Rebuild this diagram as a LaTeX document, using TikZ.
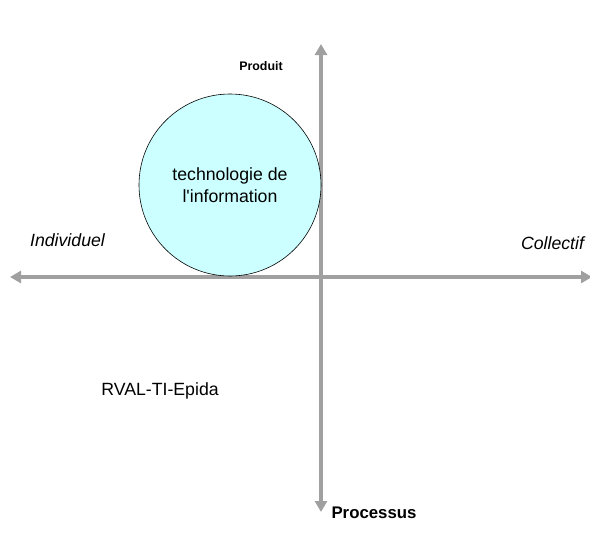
\documentclass[tikz,border=0pt]{standalone}
\usepackage{fontspec}
\setmainfont{Liberation Sans}
\usetikzlibrary{arrows.meta}
\definecolor{circfill}{HTML}{CCFFFF}
\definecolor{axisgray}{HTML}{A0A0A0}
\begin{document}
\begin{tikzpicture}[x=1pt,y=-1pt,
  axis/.style={draw=axisgray,line width=3.8pt,-{Triangle[length=11pt,width=12pt]}},
  lbl/.style={inner sep=0pt,font=\fontsize{17.7}{21}\selectfont}]
\useasboundingbox (0,0) rectangle (590,536);
\coordinate (top) at (321,44);
\coordinate (bot) at (321,512);
\coordinate (left) at (10,277);
\coordinate (right) at (592,277);
\coordinate (c) at (321,277);
\draw[axis] (c) -- (top);
\draw[axis] (c) -- (bot);
\draw[axis] (c) -- (left);
\draw[axis] (c) -- (right);
\node[draw=black,line width=0.6pt,fill=circfill,circle,minimum size=182pt,inner sep=0pt,align=center,font=\fontsize{17.7}{22.5}\selectfont] (ti) at (230,185) {technologie de\\l\textquotesingle information};
\node[inner sep=0pt,font=\fontsize{12.4}{14}\selectfont\bfseries] (prod) at (261,66) {Produit};
\node[inner sep=0pt,font=\fontsize{16.8}{19}\selectfont\bfseries] (proc) at (374,513) {Processus};
\node[lbl,font=\fontsize{17.7}{21}\selectfont\itshape] (ind) at (67.5,240) {Individuel};
\node[lbl,font=\fontsize{17.7}{21}\selectfont\itshape] (col) at (552.5,243) {Collectif};
\node[lbl] (rval) at (160,391) {RVAL-TI-Epida};
\end{tikzpicture}
\end{document}
